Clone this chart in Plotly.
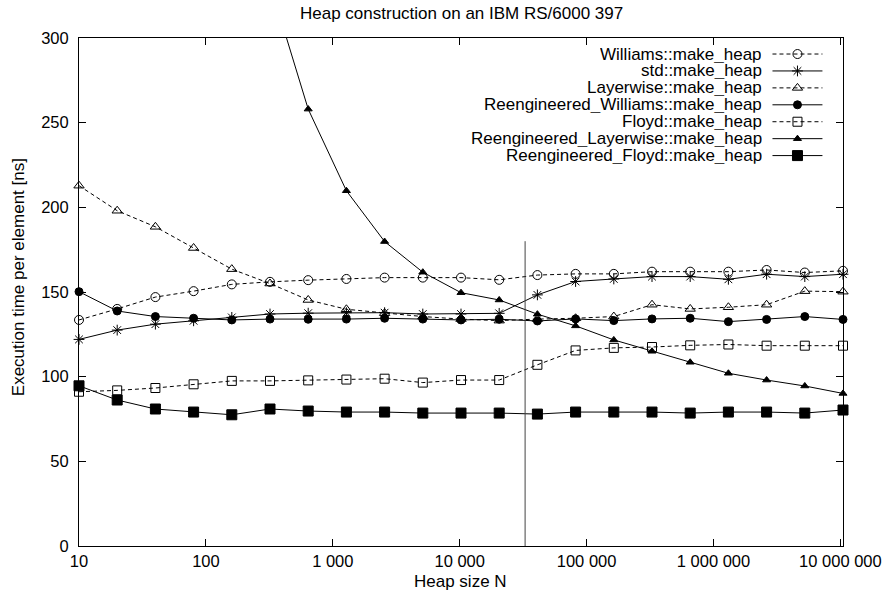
import plotly.graph_objects as go

# ---------------- data ----------------
heap_sizes = [10, 20, 40, 80, 160, 320, 640, 1280, 2560, 5120, 10240, 20480,
              40960, 81920, 163840, 327680, 655360, 1310720, 2621440, 5242880, 10485760]

williams = [133.5, 140, 147, 150.5, 154.5, 156, 157, 157.7, 158.5, 158.5, 158.5, 157.2,
            160, 160.7, 160.7, 162, 162, 162, 163, 161.5, 162.5]
std_heap = [122, 127.5, 131, 133, 135, 137, 137.5, 137.8, 137.8, 137, 137, 137.4,
            148.3, 156.2, 157.7, 159.1, 159.1, 157.5, 160.5, 159.1, 160.5]
layerwise = [212.8, 198, 188.5, 176, 163.5, 155, 145.3, 139.8, 137.5, 135.5, 134, 133.1,
             134, 134.5, 135.5, 142.5, 140, 141, 142.5, 150.5, 150.2]
re_williams = [150.2, 138.8, 135.5, 134.5, 133.5, 134, 133.9, 134, 134.5, 134, 133.5, 133.9,
               132.9, 134.1, 133.1, 134.1, 134.5, 132.5, 133.8, 135.5, 133.8]
floyd = [91.1, 91.9, 93.3, 95.5, 97.5, 97.5, 97.8, 98.3, 98.8, 96.5, 98, 98,
         107, 115.5, 117, 117.5, 118.5, 119, 118.3, 118.3, 118.3]
re_layerwise = [900, 700, 560, 460, 390, 332, 258, 209.8, 179.8, 161.7, 149.6, 145.3,
                136.9, 130, 121.7, 115, 108.5, 102, 98, 94.5, 90.1]
re_floyd = [94.6, 86.2, 80.9, 79.1, 77.5, 80.9, 79.7, 79.1, 79.1, 78.5, 78.5, 78.5,
            77.9, 79.1, 79.1, 79.1, 78.5, 79.1, 79.1, 78.5, 80.3]

cache_line_x = [32768, 32768]
cache_line_y = [0, 180]

x_tickvals = [10, 100, 1000, 10000, 100000, 1000000, 10000000]
x_ticktext = ["10", "100", "1 000", "10 000", "100 000", "1 000 000", "10 000 000"]
y_tickvals = [0, 50, 100, 150, 200, 250, 300]

series_names = ["Williams::make_heap", "std::make_heap", "Layerwise::make_heap",
                "Reengineered_Williams::make_heap", "Floyd::make_heap",
                "Reengineered_Layerwise::make_heap", "Reengineered_Floyd::make_heap"]
series_values = [williams, std_heap, layerwise, re_williams, floyd, re_layerwise, re_floyd]

# styles: (symbol, size, dash)
styles = [("circle-open", 9, "4px,3px"),
          ("asterisk-open", 9, "solid"),
          ("triangle-up-open", 9, "4px,3px"),
          ("circle", 8, "solid"),
          ("square-open", 9, "4px,3px"),
          ("triangle-up", 7, "solid"),
          ("square", 10, "solid")]

FONT = "Liberation Sans, Arial, Helvetica, sans-serif"

fig = go.Figure()

for name, vals, (sym, sz, dash) in zip(series_names, series_values, styles):
    fig.add_trace(go.Scatter(
        x=heap_sizes, y=vals, mode="lines+markers", name=name,
        line=dict(color="black", width=1, dash=dash),
        marker=dict(symbol=sym, size=sz, color="black",
                    line=dict(color="black", width=1)),
        cliponaxis=False, showlegend=False))

fig.add_trace(go.Scatter(x=cache_line_x, y=cache_line_y, mode="lines",
                         line=dict(color="#444444", width=1), showlegend=False,
                         hoverinfo="skip"))

# ---------------- manual gnuplot-style legend ----------------
row0 = 1 - (54.5 - 38.5) / 507.2
row_step = 16.9 / 507.2
text_x = 0.8957
line_x0, line_x1, mark_x = 0.9077, 0.9731, 0.9404

annotations = []
for i, (name, (sym, sz, dash)) in enumerate(zip(series_names, styles)):
    yy = row0 - i * row_step
    annotations.append(dict(x=text_x, y=yy, xref="paper", yref="paper",
                            text=name, showarrow=False, xanchor="right",
                            yanchor="middle", height=16.8, borderpad=0,
                            font=dict(size=17, color="black", family=FONT)))
    fig.add_trace(go.Scatter(x=[line_x0, line_x1], y=[yy, yy], xaxis="x2", yaxis="y2",
                             mode="lines", line=dict(color="black", width=1, dash=dash),
                             showlegend=False, hoverinfo="skip"))
    fig.add_trace(go.Scatter(x=[mark_x], y=[yy], xaxis="x2", yaxis="y2",
                             mode="markers", cliponaxis=False,
                             marker=dict(symbol=sym, size=sz, color="black",
                                         line=dict(color="black", width=1)),
                             showlegend=False, hoverinfo="skip"))

# titles
annotations.append(dict(x=0.5, y=1 + (38.5 - 14) / 507.2, xref="paper", yref="paper",
                        text="Heap construction on an IBM RS/6000 397", showarrow=False,
                        xanchor="center", yanchor="middle",
                        font=dict(size=17, color="black", family=FONT)))
annotations.append(dict(x=0.4987, y=1 - (580.7 - 38.5) / 507.2, xref="paper", yref="paper",
                        text="Heap size N", showarrow=False, xanchor="center", yanchor="middle",
                        font=dict(size=17, color="black", family=FONT)))
annotations.append(dict(x=(19.3 - 79) / 764, y=1 - (277 - 38.5) / 507.2, xref="paper",
                        yref="paper", text="Execution time per element [ns]", showarrow=False,
                        textangle=-90, xanchor="center", yanchor="middle",
                        font=dict(size=17, color="black", family=FONT)))

axis_common = dict(showline=True, linecolor="black", linewidth=1, mirror="ticks",
                   ticks="inside", ticklen=7, tickcolor="black", tickwidth=1,
                   showgrid=False, zeroline=False, automargin=False,
                   tickfont=dict(size=16.5, color="black", family=FONT))

fig.update_layout(
    width=885, height=602,
    margin=dict(l=79, r=42, t=38, b=56),
    paper_bgcolor="white", plot_bgcolor="white",
    font=dict(family=FONT, size=17, color="black"),
    xaxis=dict(type="log", range=[1, 7.0206], tickvals=x_tickvals, ticktext=x_ticktext,
               **axis_common),
    yaxis=dict(range=[0, 300], tickvals=y_tickvals, ticklabelstandoff=6, **axis_common),
    xaxis2=dict(overlaying="x", range=[0, 1], visible=False),
    yaxis2=dict(overlaying="y", range=[0, 1], visible=False),
    annotations=annotations,
    showlegend=False,
)

fig.write_html("out.html")
